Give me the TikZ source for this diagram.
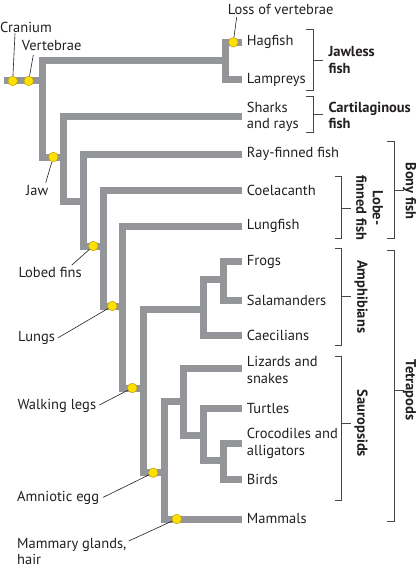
\documentclass[tikz,border=0pt]{standalone}
\usepackage{fontspec}
\setmainfont{PT Sans}
\usetikzlibrary{positioning}
\definecolor{treegray}{RGB}{148,149,153}
\definecolor{traityellow}{RGB}{255,225,0}
\definecolor{traitedge}{RGB}{200,165,10}
\definecolor{inkgray}{RGB}{35,31,32}
\definecolor{bracketgray}{RGB}{70,70,72}

\begin{document}
\begin{tikzpicture}[
  x=1pt, y=-1pt,
  every node/.style={font=\fontsize{14.5}{16.5}\selectfont, text=inkgray, inner sep=0pt},
  branch/.style={line width=7pt, treegray, line join=miter},
  trait/.style={circle, draw=traitedge, fill=traityellow, line width=0.6pt, minimum size=9.5pt},
  taxon/.style={anchor=west, xshift=5pt, align=left},
  traitlabel/.style={anchor=west, align=left},
  leader/.style={line width=0.6pt, inkgray},
  bracket/.style={line width=0.8pt, bracketgray},
  grouplabel/.style={font=\fontsize{14.5}{16.5}\selectfont\bfseries, align=left},
  vgrouplabel/.style={grouplabel, rotate=-90, align=center}
]
\useasboundingbox (0,0) rectangle (417,575);

% branch points
\coordinate (root0) at (4,81);
\coordinate (root) at (42.3,81);
\coordinate (cyclo) at (225,61);
\coordinate (gnath) at (63.3,157);
\coordinate (osteich) at (83.3,201);
\coordinate (sarco) at (103.3,246);
\coordinate (rhipid) at (122.3,306);
\coordinate (tetra) at (143.3,388);
\coordinate (amphib) at (203.3,309);
\coordinate (batrach) at (223.3,279.3);
\coordinate (amniote) at (164,472.7);
\coordinate (sauro) at (183.3,401.7);
\coordinate (archelo) at (203.3,435);
\coordinate (archo) at (223.3,460);
% tips
\foreach \tip/\ty in {hag/42.3, lam/80, sha/116.7, ray/154, coe/190, lun/226, fro/261.7, sal/300, cae/335, liz/368.3, tur/408.3, cro/443.3, bir/479.3, mam/519}
  \coordinate (t\tip) at (241.7,\ty);

% tree
\draw[branch] (root0) -- (root);
\draw[branch] (cyclo) -| (root) |- (gnath);
\draw[branch] (thag) -| (cyclo) |- (tlam);
\draw[branch] (tsha) -| (gnath) |- (osteich);
\draw[branch] (tray) -| (osteich) |- (sarco);
\draw[branch] (tcoe) -| (sarco) |- (rhipid);
\draw[branch] (tlun) -| (rhipid) |- (tetra);
\draw[branch] (amphib) -| (tetra) |- (amniote);
\draw[branch] (batrach) -| (amphib) |- (tcae);
\draw[branch] (tfro) -| (batrach) |- (tsal);
\draw[branch] (sauro) -| (amniote) |- (tmam);
\draw[branch] (tliz) -| (sauro) |- (archelo);
\draw[branch] (ttur) -| (archelo) |- (archo);
\draw[branch] (tcro) -| (archo) |- (tbir);

% taxa
\node[taxon] (hagfish) at (thag) {Hagfish};
\node[taxon] (lampreys) at (tlam) {Lampreys};
\node[taxon] (sharks) at (tsha) {Sharks\\and rays};
\node[taxon] (rayfinned) at (tray) {Ray-finned fish};
\node[taxon] (coelacanth) at (tcoe) {Coelacanth};
\node[taxon] (lungfish) at (tlun) {Lungfish};
\node[taxon] (frogs) at (tfro) {Frogs};
\node[taxon] (salamanders) at (tsal) {Salamanders};
\node[taxon] (caecilians) at (tcae) {Caecilians};
\node[taxon, yshift=-1.5pt] (lizards) at (tliz) {Lizards and\\snakes};
\node[taxon] (turtles) at (ttur) {Turtles};
\node[taxon] (crocodiles) at (tcro) {Crocodiles and\\alligators};
\node[taxon] (birds) at (tbir) {Birds};
\node[taxon] (mammals) at (tmam) {Mammals};

% traits
\node[trait] (dcranium) at (12.7,81) {};
\node[trait] (dvertebrae) at (28.7,81) {};
\node[trait] (dloss) at (233.3,42.3) {};
\node[trait] (djaw) at (53.3,157) {};
\node[trait] (dlobed) at (93.3,246) {};
\node[trait] (dlungs) at (112.3,306) {};
\node[trait] (dlegs) at (132.3,388) {};
\node[trait] (degg) at (153.3,472.7) {};
\node[trait] (dmammary) at (176.7,519) {};

\node[traitlabel] (lcranium) at (0,27) {Cranium};
\node[traitlabel] (lvertebrae) at (21.7,45.7) {Vertebrae};
\node[traitlabel] (lloss) at (227.7,9.3) {Loss of vertebrae};
\node[traitlabel] (ljaw) at (26,191) {Jaw};
\node[traitlabel] (llobed) at (18.3,272.7) {Lobed fins};
\node[traitlabel] (llungs) at (18,337.7) {Lungs};
\node[traitlabel] (llegs) at (17.3,406) {Walking legs};
\node[traitlabel] (legg) at (17,498.3) {Amniotic egg};
\node[traitlabel] (lmammary) at (17,551.3) {Mammary glands,\\hair};

\draw[leader] (dcranium) -- ([xshift=15pt,yshift=-6.3pt]lcranium.west);
\draw[leader] (dvertebrae) -- ([xshift=11.6pt,yshift=-9.3pt]lvertebrae.west);
\draw[leader] (dloss) -- ([xshift=9pt,yshift=-7.7pt]lloss.west);
\draw[leader] (djaw) -- ([xshift=19.7pt,yshift=8.3pt]ljaw.west);
\draw[leader] (dlobed) -- ([xshift=-10pt,yshift=7.7pt]llobed.east);
\draw[leader] (dlungs) -- ([xshift=3pt]llungs.east);
\draw[leader] (dlegs) -- ([xshift=3pt,yshift=1pt]llegs.east);
\draw[leader] (degg) -- ([xshift=4pt,yshift=1pt]legg.east);
\draw[leader] (dmammary) -- ([xshift=2pt,yshift=10.3pt]lmammary.east);

% groups
\foreach \bx/\btop/\bbot/\bmid in {313.3/29/90/60, 313.3/96.7/132.7/114.3, 394.3/141.7/238.3/190.7, 341.7/176.7/238.3/208.3, 341.7/248.3/345/296, 341.7/356/500/423.3, 394.3/250.7/521.7/390}
{
  \draw[bracket] (\bx-7,\btop) -| (\bx,\bbot) -- (\bx-7,\bbot);
  \draw[bracket] (\bx,\bmid) -- (\bx+9.5,\bmid);
}
\node[grouplabel, anchor=west] (jawless) at (328.3,60) {Jawless\\fish};
\node[grouplabel, anchor=west] (cartil) at (328.3,115.3) {Cartilaginous\\fish};
\node[vgrouplabel] (bony) at (409.5,191) {Bony fish};
\node[vgrouplabel] (lobefin) at (369.5,208) {Lobe-\\finned fish};
\node[vgrouplabel] (amphibians) at (361,296.7) {Amphibians};
\node[vgrouplabel] (sauropsids) at (361,423.3) {Sauropsids};
\node[vgrouplabel] (tetrapods) at (409.5,390) {Tetrapods};
\end{tikzpicture}
\end{document}
